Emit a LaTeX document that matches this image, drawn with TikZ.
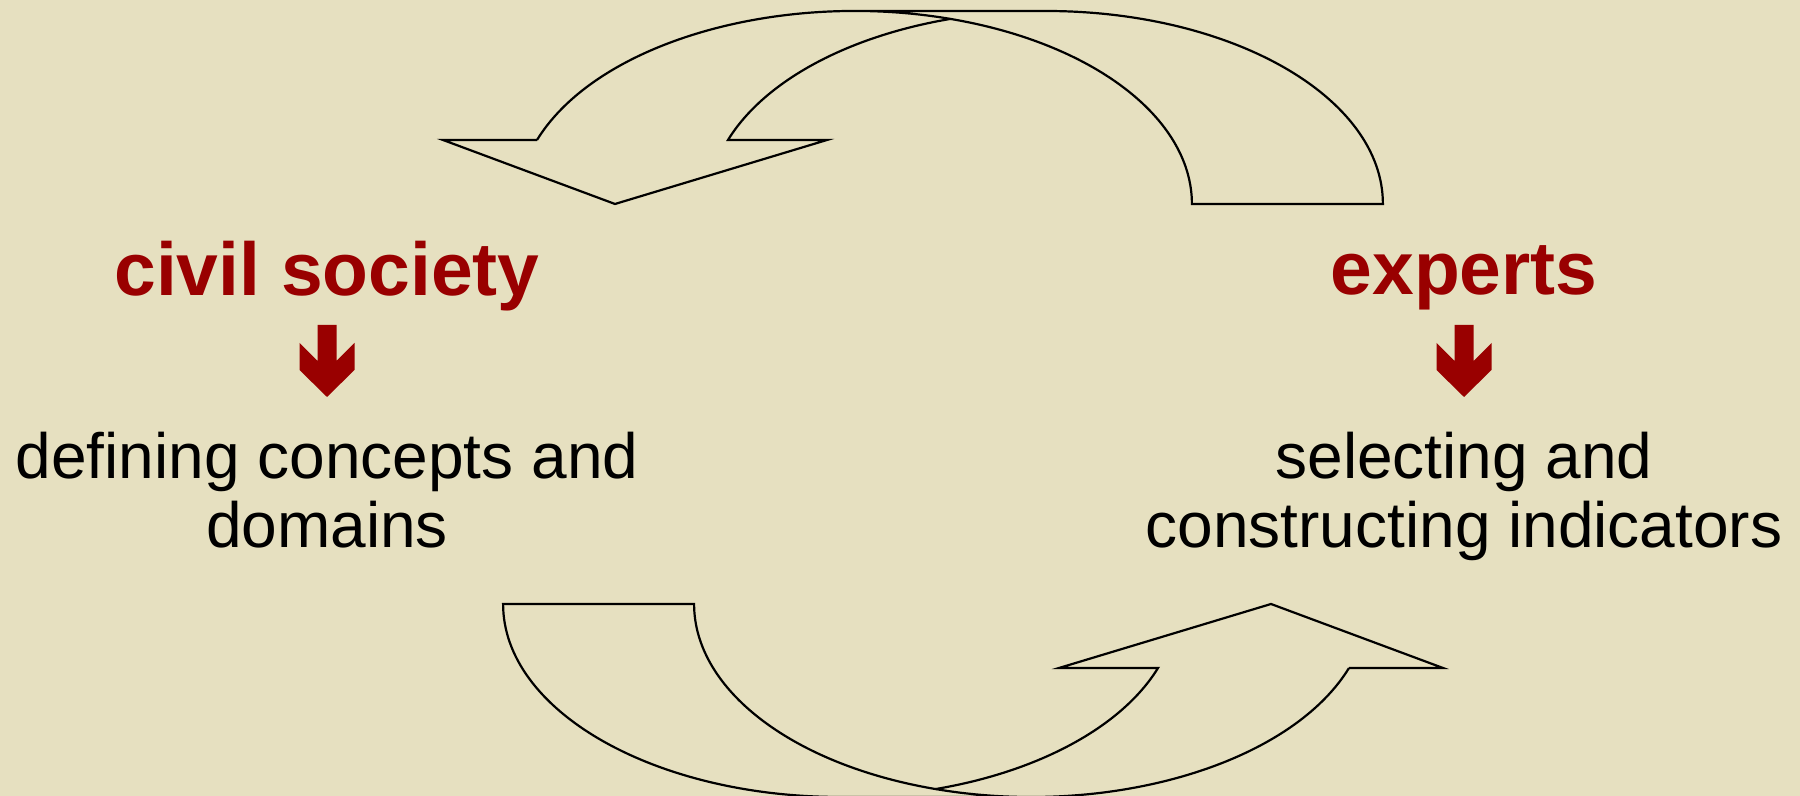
\documentclass[tikz,border=0pt]{standalone}
\usepackage{fontspec}
\setmainfont{Liberation Sans}
\usetikzlibrary{positioning}
\definecolor{paper}{RGB}{230,224,192}
\definecolor{deepred}{RGB}{153,0,0}

\begin{document}
\begin{tikzpicture}[
  x=0.5pt, y=0.5pt,
  actor/.style={font=\bfseries\fontsize{37.5}{42}\selectfont, text=deepred, anchor=base},
  task/.style={font=\fontsize{32}{34.5}\selectfont, align=center, anchor=base},
  loopline/.style={line width=1.1pt, line join=miter},
  downmark/.pic={
    \fill[deepred] (-9.5,36) -- (9.5,36) -- (9.5,0) -- (27.5,18) -- (27.5,-9)
      -- (0,-36) -- (-27.5,-9) -- (-27.5,18) -- (-9.5,0) -- cycle;
  },
  cyclearrow/.pic={
    % head and inner edge
    \draw[loopline] (-406,264) -- (-500,264) -- (-328,200) -- (-116,264) -- (-215,264)
      arc[start angle=160.63, end angle=106.46, x radius=337, y radius=193];
    % outer band
    \draw[loopline] (-406,264)
      arc[start angle=160.63, end angle=0, x radius=337, y radius=193] -- ++(191,0)
      arc[start angle=0, end angle=90, x radius=337, y radius=193] -- (-88,393);
  },
]
  % Background
  \fill[paper] (0,0) rectangle (1800,796);
  \useasboundingbox (0,0) rectangle (1800,796);

  % Cycle arrows
  \pic at (943,392) {cyclearrow};
  \pic[rotate=180] at (943,392) {cyclearrow};

  % Actors
  \node[actor] (civil) at (327,500) {civil society};
  \node[actor] (experts) at (1464,501) {experts};

  % Down marks
  \pic at (327,435) {downmark};
  \pic at (1464,435) {downmark};

  % Tasks (base = last line)
  \node[task] (define) at (327,248) {defining concepts and\\domains};
  \node[task] (select) at (1464,248) {selecting and\\constructing indicators};
\end{tikzpicture}
\end{document}
